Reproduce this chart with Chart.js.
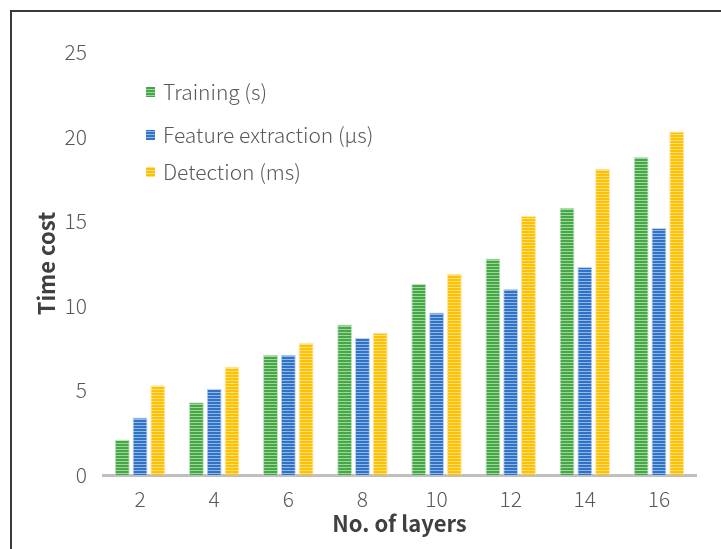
<!DOCTYPE html>
<html>
<head>
<meta charset="utf-8">
<script src="https://cdn.jsdelivr.net/npm/chart.js@4/dist/chart.umd.min.js"></script>
<style>
  html, body { margin: 0; padding: 0; background: #ffffff; }
  canvas { display: block; }
</style>
</head>
<body>
<canvas id="c" width="721" height="549"></canvas>
<script>
// Number of layers on the x axis
const layers = ['2', '4', '6', '8', '10', '12', '14', '16'];
// Time cost per series
const training = [2.1, 4.3, 7.1, 8.9, 11.3, 12.8, 15.8, 18.8];
const featureExtraction = [3.4, 5.1, 7.1, 8.1, 9.6, 11.0, 12.3, 14.6];
const detection = [5.3, 6.4, 7.8, 8.4, 11.9, 15.3, 18.1, 20.3];
const seriesNames = ['Training (s)', 'Feature extraction (\u00b5s)', 'Detection (ms)'];

const FONT = '"Noto Sans CJK SC", "Liberation Sans", sans-serif';
const canvas = document.getElementById('c');
const ctx = canvas.getContext('2d');

// Horizontally striped fill for the bars
function stripes(base, light) {
  const p = document.createElement('canvas');
  p.width = 4; p.height = 3;
  const g = p.getContext('2d');
  g.fillStyle = base; g.fillRect(0, 0, 4, 3);
  g.fillStyle = light; g.fillRect(0, 2, 4, 1);
  return ctx.createPattern(p, 'repeat');
}

const fills = [
  stripes('#45a845', '#9fd69f'),
  stripes('#2f73c6', '#93b6e6'),
  stripes('#ffc000', '#ffdf80')
];
const edges = ['#bfe3bf', '#bcd2f0', '#ffe6a6'];

// Outer frame (left and top edges)
const framePlugin = {
  id: 'frame',
  beforeDraw(chart) {
    const c = chart.ctx;
    c.save();
    c.strokeStyle = '#3a3a3a';
    c.lineWidth = 2;
    c.beginPath();
    c.moveTo(11, chart.height);
    c.lineTo(11, 11);
    c.lineTo(chart.width, 11);
    c.stroke();
    c.restore();
  }
};

// Legend drawn inside the plot area, top left
const legendRows = [92, 135, 172];
const legendPlugin = {
  id: 'innerLegend',
  afterDraw(chart) {
    const c = chart.ctx;
    c.save();
    c.font = '300 21px ' + FONT;
    c.textBaseline = 'middle';
    chart.data.datasets.forEach((ds, i) => {
      const y = legendRows[i];
      c.fillStyle = ds.backgroundColor;
      c.fillRect(146, y - 5, 9, 10);
      c.fillStyle = '#595959';
      c.fillText(ds.label, 163, y);
    });
    c.restore();
  }
};

new Chart(canvas, {
  type: 'bar',
  data: {
    labels: layers,
    datasets: [
      { label: seriesNames[0], data: training, backgroundColor: fills[0], borderColor: edges[0], borderWidth: 1 },
      { label: seriesNames[1], data: featureExtraction, backgroundColor: fills[1], borderColor: edges[1], borderWidth: 1 },
      { label: seriesNames[2], data: detection, backgroundColor: fills[2], borderColor: edges[2], borderWidth: 1 }
    ]
  },
  options: {
    responsive: false,
    animation: false,
    layout: { padding: { top: 52, right: 25, left: 0, bottom: 0 } },
    datasets: { bar: { categoryPercentage: 0.72, barPercentage: 0.84 } },
    plugins: { legend: { display: false }, tooltip: { enabled: false } },
    scales: {
      x: {
        grid: { display: false },
        border: { display: true, color: '#bfbfbf', width: 3 },
        ticks: { color: '#595959', font: { family: FONT, size: 21, weight: 300 }, padding: 3 },
        title: { display: true, text: 'No. of layers', color: '#404040',
                 font: { family: FONT, size: 22, weight: 'bold' }, padding: { top: 0, bottom: 12 } },
        afterFit(s) { s.height = 74; }
      },
      y: {
        min: 0, max: 25,
        ticks: { stepSize: 5, color: '#595959', font: { family: FONT, size: 21, weight: 300 }, padding: 16 },
        grid: { display: false, drawTicks: false },
        border: { display: false },
        title: { display: true, text: 'Time cost', color: '#404040',
                 font: { family: FONT, size: 22, weight: 'bold' }, padding: { top: 33, bottom: 0 } },
        afterFit(s) { s.width = 103; }
      }
    }
  },
  plugins: [framePlugin, legendPlugin]
});
</script>
</body>
</html>
